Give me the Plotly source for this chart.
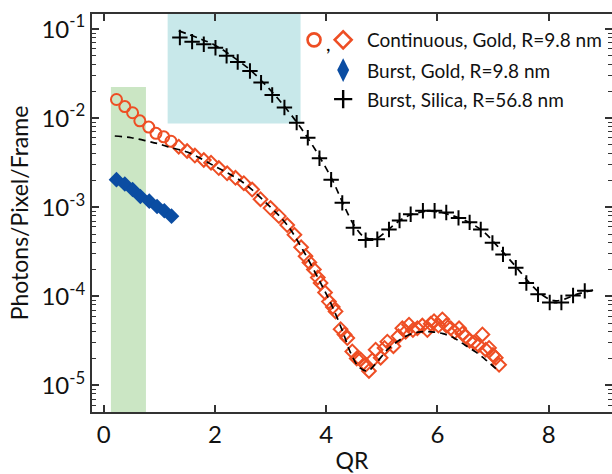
import plotly.graph_objects as go

# ---- data -------------------------------------------------------------
# Continuous gold, R = 9.8 nm (circles at low QR, diamonds beyond)
cont_circle_qr = [0.23, 0.38, 0.52, 0.65, 0.81, 0.94, 1.08, 1.21]
cont_circle_i = [1.62e-2, 1.35e-2, 1.15e-2, 9.33e-3, 7.94e-3, 6.76e-3, 6.17e-3, 5.50e-3]

cont_diamond_qr = [1.35, 1.50, 1.64, 1.80, 1.93, 2.07, 2.22, 2.37, 2.52, 2.67,
                   2.82, 3.00, 3.15, 3.30, 3.43, 3.55, 3.63, 3.70, 3.78, 3.85,
                   3.90, 3.98, 4.05, 4.12, 4.17, 4.26, 4.33, 4.38, 4.47, 4.55,
                   4.62, 4.71, 4.77, 4.83, 4.89, 4.98, 5.05, 5.10, 5.21, 5.30,
                   5.37, 5.43, 5.49, 5.56, 5.64, 5.73, 5.82, 5.88, 5.94, 6.02,
                   6.09, 6.16, 6.24, 6.31, 6.39, 6.45, 6.51, 6.58, 6.66, 6.74,
                   6.81, 6.87, 6.93, 7.00, 7.05, 7.11]
cont_diamond_i = [4.79e-3, 4.27e-3, 3.80e-3, 3.39e-3, 3.16e-3, 2.75e-3, 2.40e-3, 2.14e-3, 1.86e-3, 1.58e-3,
                  1.23e-3, 9.77e-4, 7.94e-4, 6.31e-4, 4.90e-4, 3.55e-4, 2.82e-4, 2.40e-4, 2.00e-4, 1.62e-4,
                  1.41e-4, 1.10e-4, 8.71e-5, 7.59e-5, 6.76e-5, 4.27e-5, 3.72e-5, 3.39e-5, 2.40e-5, 2.00e-5,
                  1.95e-5, 1.70e-5, 1.45e-5, 1.91e-5, 2.51e-5, 2.04e-5, 2.63e-5, 3.09e-5, 2.75e-5, 3.55e-5,
                  4.37e-5, 3.98e-5, 4.79e-5, 4.17e-5, 4.37e-5, 4.68e-5, 4.17e-5, 4.90e-5, 5.25e-5, 4.68e-5,
                  5.50e-5, 4.68e-5, 4.37e-5, 3.98e-5, 4.37e-5, 3.80e-5, 3.55e-5, 3.16e-5, 3.02e-5, 2.82e-5,
                  3.72e-5, 2.51e-5, 2.63e-5, 2.19e-5, 2.04e-5, 1.70e-5]

# Burst gold, R = 9.8 nm
burst_gold_qr = [0.23, 0.38, 0.52, 0.66, 0.82, 0.96, 1.09, 1.22]
burst_gold_i = [2.04e-3, 1.82e-3, 1.58e-3, 1.32e-3, 1.17e-3, 1.02e-3, 9.12e-4, 7.94e-4]

# Burst silica, R = 56.8 nm
burst_silica_qr = [1.37, 1.59, 1.80, 2.01, 2.21, 2.41, 2.63, 2.83, 3.03, 3.25,
                   3.47, 3.67, 3.88, 4.09, 4.29, 4.49, 4.71, 4.92, 5.13, 5.32,
                   5.52, 5.74, 5.95, 6.16, 6.38, 6.58, 6.78, 6.99, 7.18, 7.41,
                   7.60, 7.81, 8.02, 8.23, 8.44, 8.65]
burst_silica_i = [8.05e-2, 7.24e-2, 6.76e-2, 6.17e-2, 5.01e-2, 4.27e-2, 3.39e-2, 2.51e-2, 1.82e-2, 1.32e-2,
                  8.91e-3, 6.03e-3, 3.55e-3, 2.04e-3, 1.12e-3, 5.89e-4, 4.27e-4, 4.37e-4, 5.62e-4, 7.08e-4,
                  8.32e-4, 9.12e-4, 9.12e-4, 8.71e-4, 7.59e-4, 6.76e-4, 5.62e-4, 3.98e-4, 2.95e-4, 2.09e-4,
                  1.41e-4, 1.05e-4, 8.51e-5, 8.51e-5, 1.02e-4, 1.15e-4]

# Sphere form-factor fits (dashed)
fit_gold_qr = [0.2, 0.5, 0.8, 1.0, 1.2, 1.5, 2.0, 2.5, 3.0, 3.3, 3.6, 3.9, 4.1, 4.3, 4.45,
               4.6, 4.75, 4.9, 5.1, 5.3, 5.5, 5.7, 5.9, 6.1, 6.3, 6.5, 6.7, 6.9, 7.1]
fit_gold_i = [6.31e-3, 6.03e-3, 5.50e-3, 5.13e-3, 4.68e-3, 4.17e-3, 2.88e-3, 1.91e-3, 1.00e-3, 6.31e-4,
              3.16e-4, 1.41e-4, 7.94e-5, 3.98e-5, 2.24e-5, 1.58e-5, 1.45e-5, 1.78e-5, 2.51e-5, 3.16e-5,
              3.72e-5, 3.98e-5, 3.98e-5, 3.80e-5, 3.39e-5, 2.82e-5, 2.34e-5, 1.86e-5, 1.45e-5]

fit_silica_qr = [1.35, 1.7, 2.0, 2.3, 2.6, 2.9, 3.2, 3.5, 3.8, 4.1, 4.3, 4.5, 4.7, 4.9, 5.1,
                 5.3, 5.5, 5.75, 6.0, 6.2, 6.5, 6.8, 7.1, 7.4, 7.7, 7.9, 8.1, 8.3, 8.5, 8.8]
fit_silica_i = [9.55e-2, 7.94e-2, 6.61e-2, 5.01e-2, 3.63e-2, 2.40e-2, 1.48e-2, 8.51e-3, 4.47e-3, 2.09e-3,
                1.12e-3, 6.31e-4, 4.57e-4, 4.47e-4, 5.50e-4, 6.92e-4, 8.13e-4, 8.91e-4, 8.91e-4, 8.32e-4,
                7.08e-4, 5.50e-4, 3.55e-4, 2.19e-4, 1.32e-4, 1.02e-4, 8.91e-5, 9.33e-5, 1.05e-4, 1.17e-4]

# Highlighted QR windows: (qr_lo, qr_hi, intensity limit)
green_band = (0.13, 0.76, 2.24e-2)   # from bottom of axis up to limit
cyan_band = (1.15, 3.54, 8.7e-3)     # from limit up to top of axis

x_ticks = [0, 2, 4, 6, 8]
y_exponents = [-5, -4, -3, -2, -1]
legend_labels = ["Continuous, Gold, R=9.8 nm", "Burst, Gold, R=9.8 nm", "Burst, Silica, R=56.8 nm"]

# ---- styling ----------------------------------------------------------
X_RANGE = [-0.21, 9.14]
Y_RANGE = [-5.30, -0.83]          # log10 units
ORANGE = "#EE4E24"
BLUE = "#0B4DA2"
FONT = "Lato"
AXIS_COLOR = "#333333"

fig = go.Figure()

y_lo, y_hi = 10 ** Y_RANGE[0], 10 ** Y_RANGE[1]
fig.add_trace(go.Scatter(
    x=[green_band[0], green_band[1], green_band[1], green_band[0], green_band[0]],
    y=[y_lo, y_lo, green_band[2], green_band[2], y_lo],
    fill="toself", fillcolor="#CBE6C4", line=dict(width=0), mode="lines",
    hoverinfo="skip", showlegend=False))
fig.add_trace(go.Scatter(
    x=[cyan_band[0], cyan_band[1], cyan_band[1], cyan_band[0], cyan_band[0]],
    y=[cyan_band[2], cyan_band[2], y_hi, y_hi, cyan_band[2]],
    fill="toself", fillcolor="#C8E8EA", line=dict(width=0), mode="lines",
    hoverinfo="skip", showlegend=False))

fig.add_trace(go.Scatter(x=cont_circle_qr, y=cont_circle_i, mode="markers",
                         marker=dict(symbol="circle-open", size=11, color=ORANGE,
                                     line=dict(width=2, color=ORANGE)),
                         showlegend=False))
fig.add_trace(go.Scatter(x=cont_diamond_qr, y=cont_diamond_i, mode="markers",
                         marker=dict(symbol="diamond-open", size=10.5, color=ORANGE,
                                     line=dict(width=2, color=ORANGE)),
                         showlegend=False))
fig.add_trace(go.Scatter(x=burst_gold_qr, y=burst_gold_i, mode="markers",
                         marker=dict(symbol="diamond", size=12, color=BLUE,
                                     line=dict(width=0)),
                         showlegend=False))
fig.add_trace(go.Scatter(x=burst_silica_qr, y=burst_silica_i, mode="markers",
                         marker=dict(symbol="cross-thin", size=11, color="black",
                                     line=dict(width=2, color="black")),
                         showlegend=False))

for fx, fy in ((fit_gold_qr, fit_gold_i), (fit_silica_qr, fit_silica_i)):
    fig.add_trace(go.Scatter(x=fx, y=fy, mode="lines",
                             line=dict(color="black", width=1.7, dash="7px,5px", shape="spline"),
                             showlegend=False, hoverinfo="skip"))

# right-hand tick axis (ticks only, no line)
fig.add_trace(go.Scatter(x=[None], y=[None], yaxis="y2", showlegend=False, hoverinfo="skip"))

# ---- legend drawn inside the plot area --------------------------------
leg_rows = [0.935, 0.859, 0.786]
leg_marker_x = 0.483
fig.add_trace(go.Scatter(x=[0.427], y=[leg_rows[0]], xaxis="x2", yaxis="y3", mode="markers",
                         marker=dict(symbol="circle-open", size=13, color=ORANGE,
                                     line=dict(width=2.6, color=ORANGE)),
                         showlegend=False, hoverinfo="skip"))
fig.add_trace(go.Scatter(x=[leg_marker_x], y=[leg_rows[0]], xaxis="x2", yaxis="y3", mode="markers",
                         marker=dict(symbol="diamond-open", size=13, color=ORANGE,
                                     line=dict(width=2.6, color=ORANGE)),
                         showlegend=False, hoverinfo="skip"))
fig.add_trace(go.Scatter(x=[leg_marker_x], y=[leg_rows[1]], xaxis="x2", yaxis="y3", mode="markers",
                         marker=dict(symbol="diamond-tall", size=17, color=BLUE, line=dict(width=0)),
                         showlegend=False, hoverinfo="skip"))
fig.add_trace(go.Scatter(x=[leg_marker_x], y=[leg_rows[2]], xaxis="x2", yaxis="y3", mode="markers",
                         marker=dict(symbol="cross-thin", size=13, color="black",
                                     line=dict(width=2.4, color="black")),
                         showlegend=False, hoverinfo="skip"))

annotations = [dict(x=0.455, y=leg_rows[0] - 0.008, xref="paper", yref="paper", text=",",
                    showarrow=False, font=dict(family=FONT, size=20, color="black"),
                    xanchor="center", yanchor="middle")]
for label, yr in zip(legend_labels, leg_rows):
    annotations.append(dict(x=0.525, y=yr, xref="paper", yref="paper", text=label,
                            showarrow=False, font=dict(family=FONT, size=19, color="#111111"),
                            xanchor="left", yanchor="middle"))

minor_vals = [m * 10 ** e for e in range(-6, 0) for m in range(2, 10)]

fig.update_layout(
    width=612, height=474,
    margin=dict(l=92, r=0, t=14, b=62),
    paper_bgcolor="white", plot_bgcolor="white",
    font=dict(family=FONT, color="#111111"),
    annotations=annotations,
    xaxis=dict(range=X_RANGE, tickvals=x_ticks, ticks="inside", ticklen=7, tickwidth=2,
               tickcolor=AXIS_COLOR, showline=True, linecolor=AXIS_COLOR, linewidth=2,
               mirror="ticks", showgrid=False, zeroline=False,
               tickfont=dict(family=FONT, size=24),
               title=dict(text="QR", font=dict(family=FONT, size=23), standoff=6)),
    yaxis=dict(type="log", range=Y_RANGE,
               tickvals=[10 ** e for e in y_exponents],
               ticktext=[f"10<sup>{e}</sup>" for e in y_exponents],
               ticks="inside", ticklen=7, tickwidth=2, tickcolor=AXIS_COLOR,
               minor=dict(tickvals=minor_vals, ticks="inside", ticklen=4, tickwidth=1.2,
                          tickcolor=AXIS_COLOR, showgrid=False),
               showline=True, linecolor=AXIS_COLOR, linewidth=2, mirror=False,
               showgrid=False, zeroline=False,
               tickfont=dict(family=FONT, size=24),
               title=dict(text="Photons/Pixel/Frame", font=dict(family=FONT, size=23), standoff=6)),
    yaxis2=dict(type="log", range=Y_RANGE, overlaying="y", side="right",
                tickvals=[10 ** e for e in y_exponents], showticklabels=False,
                ticks="inside", ticklen=7, tickwidth=2, tickcolor=AXIS_COLOR,
                minor=dict(tickvals=minor_vals, ticks="inside", ticklen=4, tickwidth=1.2,
                           tickcolor=AXIS_COLOR, showgrid=False),
                showline=False, showgrid=False, zeroline=False),
    xaxis2=dict(range=[0, 1], overlaying="x", visible=False),
    yaxis3=dict(range=[0, 1], overlaying="y", visible=False),
)

fig.write_html("out.html")
